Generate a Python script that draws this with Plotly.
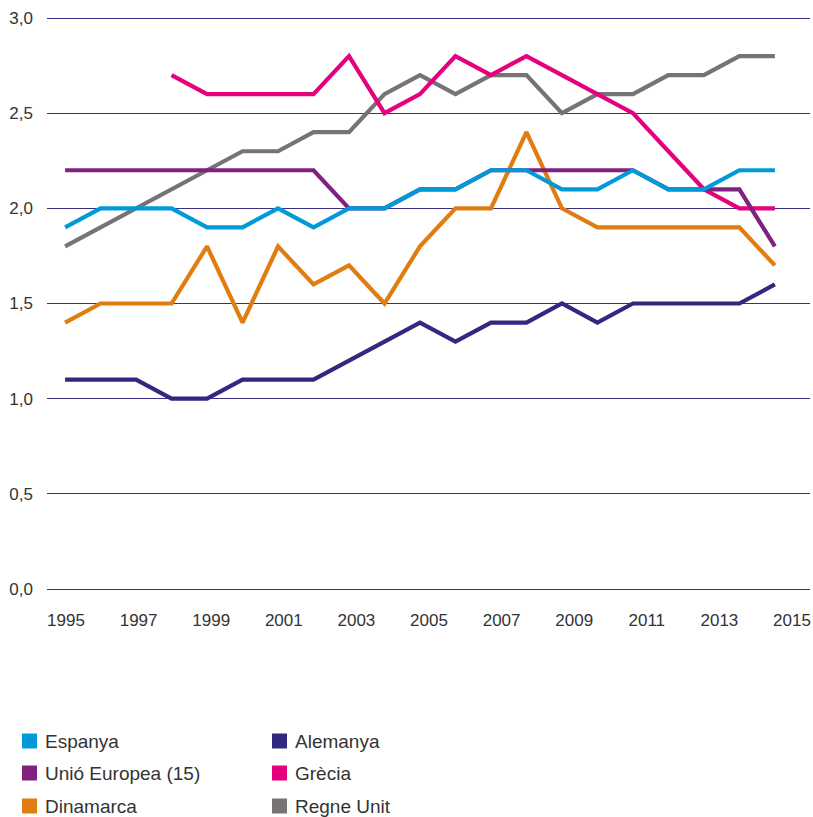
import plotly.graph_objects as go

years = list(range(1995, 2016))

espanya = [1.9, 2.0, 2.0, 2.0, 1.9, 1.9, 2.0, 1.9, 2.0, 2.0, 2.1, 2.1, 2.2, 2.2, 2.1, 2.1, 2.2, 2.1, 2.1, 2.2, 2.2]
alemanya = [1.1, 1.1, 1.1, 1.0, 1.0, 1.1, 1.1, 1.1, 1.2, 1.3, 1.4, 1.3, 1.4, 1.4, 1.5, 1.4, 1.5, 1.5, 1.5, 1.5, 1.6]
ue15 = [2.2, 2.2, 2.2, 2.2, 2.2, 2.2, 2.2, 2.2, 2.0, 2.0, 2.1, 2.1, 2.2, 2.2, 2.2, 2.2, 2.2, 2.1, 2.1, 2.1, 1.8]
grecia = [None, None, None, 2.7, 2.6, 2.6, 2.6, 2.6, 2.8, 2.5, 2.6, 2.8, 2.7, 2.8, 2.7, 2.6, 2.5, 2.3, 2.1, 2.0, 2.0]
dinamarca = [1.4, 1.5, 1.5, 1.5, 1.8, 1.4, 1.8, 1.6, 1.7, 1.5, 1.8, 2.0, 2.0, 2.4, 2.0, 1.9, 1.9, 1.9, 1.9, 1.9, 1.7]
regne_unit = [1.8, 1.9, 2.0, 2.1, 2.2, 2.3, 2.3, 2.4, 2.4, 2.6, 2.7, 2.6, 2.7, 2.7, 2.5, 2.6, 2.6, 2.7, 2.7, 2.8, 2.8]

names = ["Espanya", "Alemanya", "Unió Europea (15)", "Grècia", "Dinamarca", "Regne Unit"]
series = [espanya, alemanya, ue15, grecia, dinamarca, regne_unit]
colors = ["#009ad9", "#31287f", "#80207f", "#e5007d", "#e07c10", "#787276"]

tick_years = list(range(1995, 2016, 2))
y_ticks = [0, 0.5, 1.0, 1.5, 2.0, 2.5, 3.0]

fig = go.Figure()
draw_order = [5, 3, 4, 1, 2, 0]
for i in draw_order:
    fig.add_trace(go.Scatter(
        x=years, y=series[i], name=names[i], mode="lines",
        line=dict(color=colors[i], width=4.2, shape="linear"),
        showlegend=False, connectgaps=False,
    ))

FAM = "Liberation Sans, Arial, sans-serif"
tick_font = dict(family=FAM, size=17, color="#333333")

W, H = 813, 817
ML, MR, MT, MB = 47, 3, 15, 225
plot_w = W - ML - MR
plot_h = H - MT - MB
pad = 3 * 3.0 / 571  # small padding so the 0 and 3 gridlines are drawn

fig.update_layout(
    width=W, height=H,
    margin=dict(l=ML, r=MR, t=MT, b=MB),
    plot_bgcolor="white", paper_bgcolor="white",
    separators=",.",
    font=tick_font,
    showlegend=False,
    xaxis=dict(range=[1994.49, 2015.99], showticklabels=False, showgrid=False,
               zeroline=False, showline=False, ticks=""),
    xaxis2=dict(range=[1994.477, 2015.496], overlaying="x", side="bottom",
                tickvals=tick_years, ticktext=[str(t) for t in tick_years],
                showgrid=False, zeroline=False, showline=False, ticks="",
                ticklabelstandoff=16, tickfont=tick_font),
    yaxis=dict(range=[-pad, 3.0 + pad], tickvals=y_ticks, tickformat=".1f",
               showgrid=True, gridcolor="#3a2f86", gridwidth=1,
               zeroline=False, showline=False, ticks="",
               ticklabelstandoff=13, tickfont=tick_font),
)

# invisible anchor trace for the secondary x axis (tick labels)
fig.add_trace(go.Scatter(x=[None], y=[None], xaxis="x2", showlegend=False, hoverinfo="skip"))

# manual legend (2 columns, 3 rows)
bottom_px = H - MB
def px_x(px):
    return (px - ML) / plot_w
def px_y(py):
    return (bottom_px - py) / plot_h

legend_cols = [22, 272]
legend_rows = [741, 773, 806]
for k, (nm, col) in enumerate(zip(names, colors)):
    cx = legend_cols[k % 2]
    cy = legend_rows[k // 2]
    fig.add_shape(type="rect", xref="paper", yref="paper",
                  x0=px_x(cx), x1=px_x(cx + 15),
                  y0=px_y(cy + 7.5), y1=px_y(cy - 7.5),
                  fillcolor=col, line=dict(width=0))
    fig.add_annotation(xref="paper", yref="paper", x=px_x(cx + 21),
                       y=px_y(cy), text=nm, showarrow=False,
                       xanchor="left", yanchor="middle",
                       font=dict(family=FAM, size=19, color="#333333"))

fig.write_html("out.html", config={"displayModeBar": False},
               post_script="document.body.style.margin='0';document.body.style.overflow='hidden';")
